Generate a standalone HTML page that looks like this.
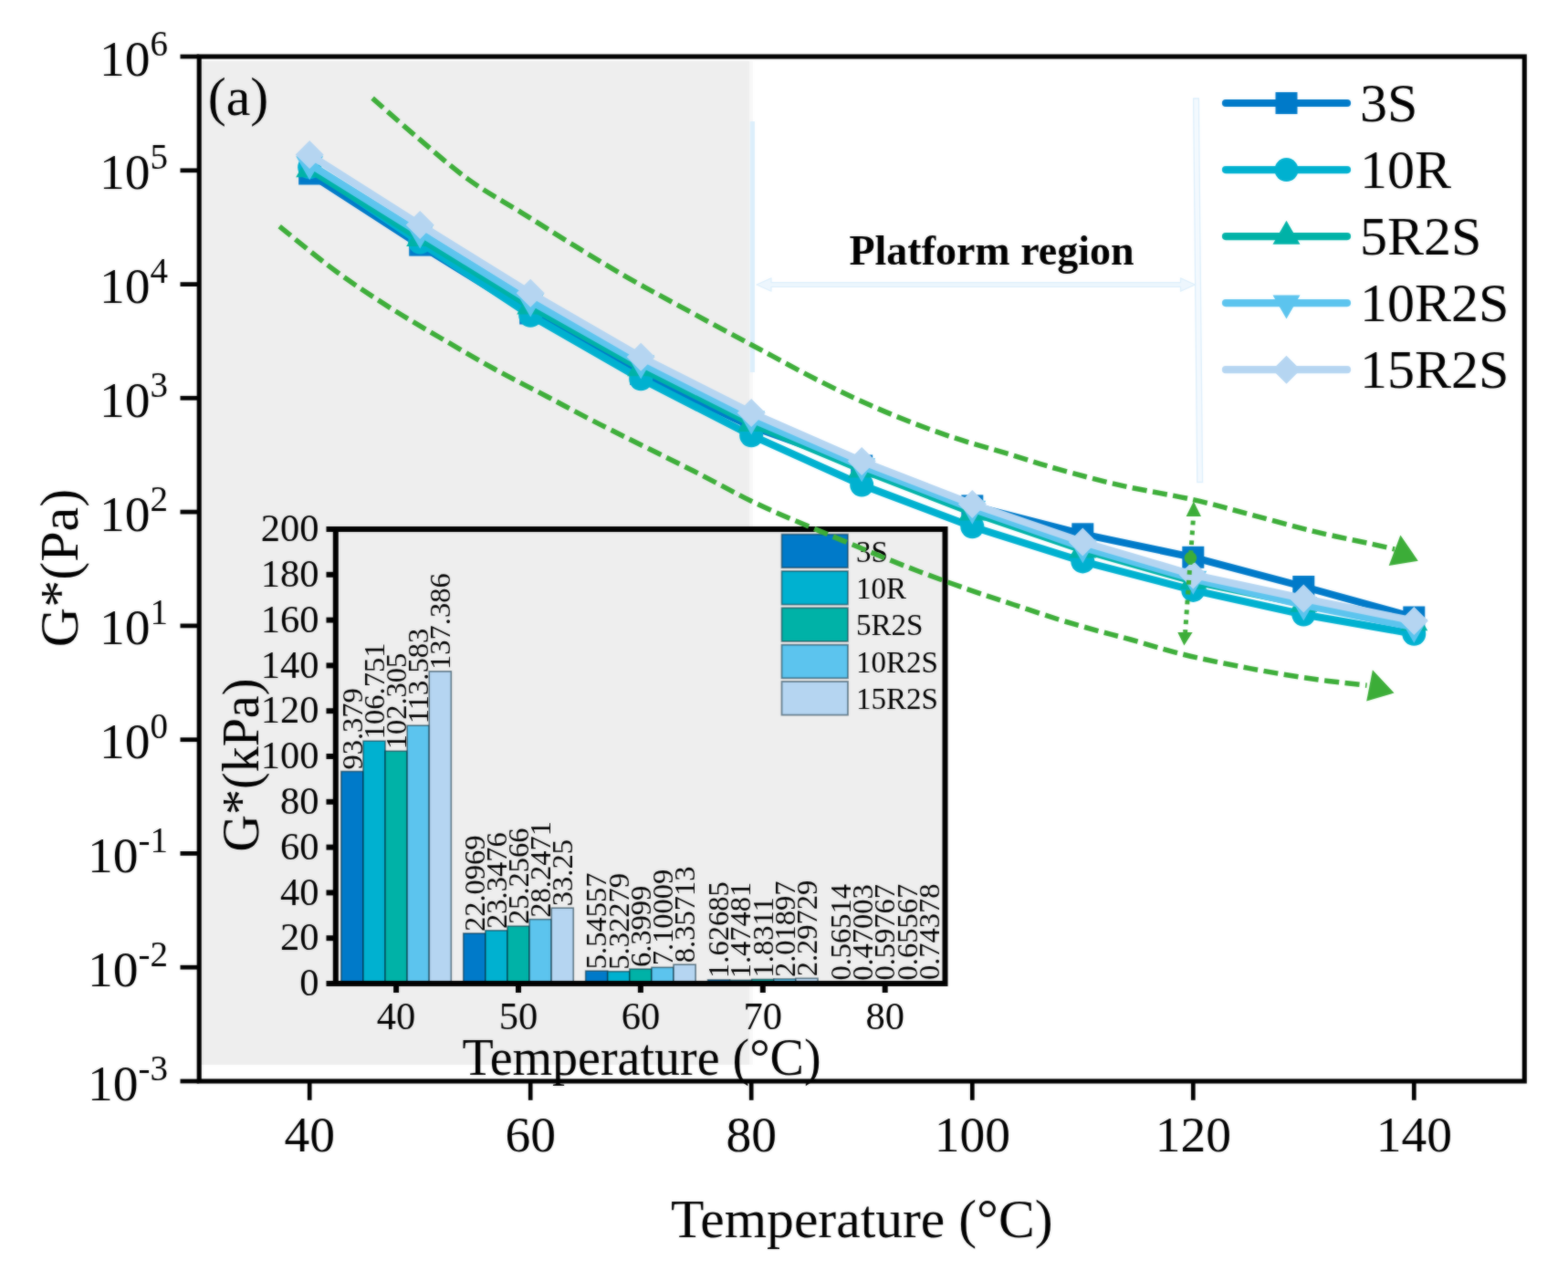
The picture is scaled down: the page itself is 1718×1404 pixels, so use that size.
<!DOCTYPE html>
<html lang="en">
<head>
<meta charset="utf-8">
<title>G* vs Temperature</title>
<style>
html,body{margin:0;padding:0;background:#fff;}
body{width:1718px;height:1404px;overflow:hidden;}
svg{display:block;}
</style>
</head>
<body>
<svg role="img" aria-label="G* versus temperature" width="1718" height="1404" viewBox="0 0 1718 1404" font-family='"Liberation Serif", "DejaVu Serif", serif'>
<defs><filter id="soft" filterUnits="userSpaceOnUse" x="0" y="0" width="1718" height="1404" color-interpolation-filters="sRGB"><feGaussianBlur in="SourceGraphic" stdDeviation="1" result="b"/><feComposite in="SourceGraphic" in2="b" operator="arithmetic" k1="0" k2="0.5" k3="0.5" k4="0"/></filter></defs>
<g filter="url(#soft)">
<rect width="1718" height="1404" fill="#fff"/>
<rect x="220.5" y="67" width="600.5" height="1100.0" fill="#EEEEEE"/>
<rect x="821" y="67" width="4" height="1100.0" fill="#F7F7F7"/>
<line x1="824.4" y1="133" x2="824.4" y2="408" stroke="#DCEEFB" stroke-width="5.2"/>
<polygon points="1307.6,108 1313.4,108 1317.6,528.5 1311.8,528.5" fill="#F3F9FE" stroke="#DCEEFB" stroke-width="1.3"/>
<polygon points="829,312 845,304.8 845,309.6 1293.5,309.6 1293.5,304.8 1309.5,312 1293.5,319.2 1293.5,314.4 845,314.4 845,319.2" fill="#EDF6FD" stroke="#DCEEFB" stroke-width="1.3" stroke-linejoin="round"/>
<text x="1086.5" y="290" font-size="46" font-weight="bold" text-anchor="middle">Platform region</text>
<rect x="367.8" y="580.0" width="667.7" height="498.0" fill="#EEEEEE"/>
<rect x="373.85" y="845.49" width="24.10" height="232.51" fill="#007AC9" stroke="#002030" stroke-opacity="0.55" stroke-width="1.6"/>
<rect x="397.95" y="812.19" width="24.10" height="265.81" fill="#00B1D0" stroke="#002030" stroke-opacity="0.55" stroke-width="1.6"/>
<rect x="422.05" y="823.26" width="24.10" height="254.74" fill="#00B2A7" stroke="#002030" stroke-opacity="0.55" stroke-width="1.6"/>
<rect x="446.15" y="795.18" width="24.10" height="282.82" fill="#5CC4EE" stroke="#002030" stroke-opacity="0.55" stroke-width="1.6"/>
<rect x="470.25" y="735.91" width="24.10" height="342.09" fill="#B5D5F1" stroke="#002030" stroke-opacity="0.55" stroke-width="1.6"/>
<rect x="507.75" y="1022.98" width="24.10" height="55.02" fill="#007AC9" stroke="#002030" stroke-opacity="0.55" stroke-width="1.6"/>
<rect x="531.85" y="1019.86" width="24.10" height="58.14" fill="#00B1D0" stroke="#002030" stroke-opacity="0.55" stroke-width="1.6"/>
<rect x="555.95" y="1015.11" width="24.10" height="62.89" fill="#00B2A7" stroke="#002030" stroke-opacity="0.55" stroke-width="1.6"/>
<rect x="580.05" y="1007.66" width="24.10" height="70.34" fill="#5CC4EE" stroke="#002030" stroke-opacity="0.55" stroke-width="1.6"/>
<rect x="604.15" y="995.21" width="24.10" height="82.79" fill="#B5D5F1" stroke="#002030" stroke-opacity="0.55" stroke-width="1.6"/>
<rect x="641.65" y="1064.19" width="24.10" height="13.81" fill="#007AC9" stroke="#002030" stroke-opacity="0.55" stroke-width="1.6"/>
<rect x="665.75" y="1064.75" width="24.10" height="13.25" fill="#00B1D0" stroke="#002030" stroke-opacity="0.55" stroke-width="1.6"/>
<rect x="689.85" y="1062.06" width="24.10" height="15.94" fill="#00B2A7" stroke="#002030" stroke-opacity="0.55" stroke-width="1.6"/>
<rect x="713.95" y="1060.32" width="24.10" height="17.68" fill="#5CC4EE" stroke="#002030" stroke-opacity="0.55" stroke-width="1.6"/>
<rect x="738.05" y="1057.19" width="24.10" height="20.81" fill="#B5D5F1" stroke="#002030" stroke-opacity="0.55" stroke-width="1.6"/>
<rect x="775.55" y="1073.95" width="24.10" height="4.05" fill="#007AC9" stroke="#002030" stroke-opacity="0.55" stroke-width="1.6"/>
<rect x="799.65" y="1074.33" width="24.10" height="3.67" fill="#00B1D0" stroke="#002030" stroke-opacity="0.55" stroke-width="1.6"/>
<rect x="823.75" y="1073.44" width="24.10" height="4.56" fill="#00B2A7" stroke="#002030" stroke-opacity="0.55" stroke-width="1.6"/>
<rect x="847.85" y="1072.97" width="24.10" height="5.03" fill="#5CC4EE" stroke="#002030" stroke-opacity="0.55" stroke-width="1.6"/>
<rect x="871.95" y="1072.28" width="24.10" height="5.72" fill="#B5D5F1" stroke="#002030" stroke-opacity="0.55" stroke-width="1.6"/>
<rect x="909.45" y="1076.59" width="24.10" height="1.41" fill="#007AC9" stroke="#002030" stroke-opacity="0.55" stroke-width="1.6"/>
<rect x="933.55" y="1076.83" width="24.10" height="1.17" fill="#00B1D0" stroke="#002030" stroke-opacity="0.55" stroke-width="1.6"/>
<rect x="957.65" y="1076.51" width="24.10" height="1.49" fill="#00B2A7" stroke="#002030" stroke-opacity="0.55" stroke-width="1.6"/>
<rect x="981.75" y="1076.37" width="24.10" height="1.63" fill="#5CC4EE" stroke="#002030" stroke-opacity="0.55" stroke-width="1.6"/>
<rect x="1005.85" y="1076.15" width="24.10" height="1.85" fill="#B5D5F1" stroke="#002030" stroke-opacity="0.55" stroke-width="1.6"/>
<text transform="translate(396.6,843.5) rotate(-90)" font-size="32.5" >93.379</text>
<text transform="translate(420.7,810.2) rotate(-90)" font-size="32.5" >106.751</text>
<text transform="translate(444.8,821.3) rotate(-90)" font-size="32.5" >102.305</text>
<text transform="translate(468.9,793.2) rotate(-90)" font-size="32.5" >113.583</text>
<text transform="translate(493.0,733.9) rotate(-90)" font-size="32.5" >137.386</text>
<text transform="translate(530.5,1021.0) rotate(-90)" font-size="32.5" >22.0969</text>
<text transform="translate(554.6,1017.9) rotate(-90)" font-size="32.5" >23.3476</text>
<text transform="translate(578.7,1013.1) rotate(-90)" font-size="32.5" >25.2566</text>
<text transform="translate(602.8,1005.7) rotate(-90)" font-size="32.5" >28.2471</text>
<text transform="translate(626.9,993.2) rotate(-90)" font-size="32.5" >33.25</text>
<text transform="translate(664.4,1062.2) rotate(-90)" font-size="32.5" >5.54557</text>
<text transform="translate(688.5,1062.7) rotate(-90)" font-size="32.5" >5.32279</text>
<text transform="translate(712.6,1060.1) rotate(-90)" font-size="32.5" >6.3999</text>
<text transform="translate(736.7,1058.3) rotate(-90)" font-size="32.5" >7.10009</text>
<text transform="translate(760.8,1055.2) rotate(-90)" font-size="32.5" >8.35713</text>
<text transform="translate(798.3,1071.9) rotate(-90)" font-size="32.5" >1.62685</text>
<text transform="translate(822.4,1072.3) rotate(-90)" font-size="32.5" >1.47481</text>
<text transform="translate(846.5,1071.4) rotate(-90)" font-size="32.5" >1.8311</text>
<text transform="translate(870.6,1071.0) rotate(-90)" font-size="32.5" >2.01897</text>
<text transform="translate(894.7,1070.3) rotate(-90)" font-size="32.5" >2.29729</text>
<text transform="translate(932.2,1074.6) rotate(-90)" font-size="32.5" >0.56514</text>
<text transform="translate(956.3,1074.8) rotate(-90)" font-size="32.5" >0.47003</text>
<text transform="translate(980.4,1074.5) rotate(-90)" font-size="32.5" >0.59767</text>
<text transform="translate(1004.5,1074.4) rotate(-90)" font-size="32.5" >0.65567</text>
<text transform="translate(1028.6,1074.1) rotate(-90)" font-size="32.5" >0.74378</text>
<rect x="367.8" y="580.0" width="667.7" height="498.0" fill="none" stroke="#000" stroke-width="6"/>
<line x1="357.5" y1="1078.0" x2="367.8" y2="1078.0" stroke="#000" stroke-width="6"/>
<text x="349.5" y="1091.2" font-size="42.5" text-anchor="end">0</text>
<line x1="357.5" y1="1028.2" x2="367.8" y2="1028.2" stroke="#000" stroke-width="6"/>
<text x="349.5" y="1041.4" font-size="42.5" text-anchor="end">20</text>
<line x1="357.5" y1="978.4" x2="367.8" y2="978.4" stroke="#000" stroke-width="6"/>
<text x="349.5" y="991.6" font-size="42.5" text-anchor="end">40</text>
<line x1="357.5" y1="928.6" x2="367.8" y2="928.6" stroke="#000" stroke-width="6"/>
<text x="349.5" y="941.8" font-size="42.5" text-anchor="end">60</text>
<line x1="357.5" y1="878.8" x2="367.8" y2="878.8" stroke="#000" stroke-width="6"/>
<text x="349.5" y="892.0" font-size="42.5" text-anchor="end">80</text>
<line x1="357.5" y1="829.0" x2="367.8" y2="829.0" stroke="#000" stroke-width="6"/>
<text x="349.5" y="842.2" font-size="42.5" text-anchor="end">100</text>
<line x1="357.5" y1="779.2" x2="367.8" y2="779.2" stroke="#000" stroke-width="6"/>
<text x="349.5" y="792.4" font-size="42.5" text-anchor="end">120</text>
<line x1="357.5" y1="729.4" x2="367.8" y2="729.4" stroke="#000" stroke-width="6"/>
<text x="349.5" y="742.6" font-size="42.5" text-anchor="end">140</text>
<line x1="357.5" y1="679.6" x2="367.8" y2="679.6" stroke="#000" stroke-width="6"/>
<text x="349.5" y="692.8" font-size="42.5" text-anchor="end">160</text>
<line x1="357.5" y1="629.8" x2="367.8" y2="629.8" stroke="#000" stroke-width="6"/>
<text x="349.5" y="643.0" font-size="42.5" text-anchor="end">180</text>
<line x1="357.5" y1="580.0" x2="367.8" y2="580.0" stroke="#000" stroke-width="6"/>
<text x="349.5" y="593.2" font-size="42.5" text-anchor="end">200</text>
<line x1="434.1" y1="1078.0" x2="434.1" y2="1088" stroke="#000" stroke-width="6"/>
<text x="434.1" y="1128.3" font-size="42.5" text-anchor="middle">40</text>
<line x1="568.0" y1="1078.0" x2="568.0" y2="1088" stroke="#000" stroke-width="6"/>
<text x="568.0" y="1128.3" font-size="42.5" text-anchor="middle">50</text>
<line x1="701.9" y1="1078.0" x2="701.9" y2="1088" stroke="#000" stroke-width="6"/>
<text x="701.9" y="1128.3" font-size="42.5" text-anchor="middle">60</text>
<line x1="835.8" y1="1078.0" x2="835.8" y2="1088" stroke="#000" stroke-width="6"/>
<text x="835.8" y="1128.3" font-size="42.5" text-anchor="middle">70</text>
<line x1="969.7" y1="1078.0" x2="969.7" y2="1088" stroke="#000" stroke-width="6"/>
<text x="969.7" y="1128.3" font-size="42.5" text-anchor="middle">80</text>
<text x="703" y="1177.5" font-size="56" text-anchor="middle">Temperature (°C)</text>
<text transform="translate(282.5,838.5) rotate(-90)" font-size="56" text-anchor="middle">G*(kPa)</text>
<rect x="856.5" y="585.6" width="72.5" height="36.6" fill="#007AC9" stroke="#002030" stroke-opacity="0.5" stroke-width="1.8"/>
<text x="938" y="615.6" font-size="33">3S</text>
<rect x="856.5" y="626.0" width="72.5" height="36.6" fill="#00B1D0" stroke="#002030" stroke-opacity="0.5" stroke-width="1.8"/>
<text x="938" y="656.0" font-size="33">10R</text>
<rect x="856.5" y="666.3" width="72.5" height="36.6" fill="#00B2A7" stroke="#002030" stroke-opacity="0.5" stroke-width="1.8"/>
<text x="938" y="696.3" font-size="33">5R2S</text>
<rect x="856.5" y="706.7" width="72.5" height="36.6" fill="#5CC4EE" stroke="#002030" stroke-opacity="0.5" stroke-width="1.8"/>
<text x="938" y="736.7" font-size="33">10R2S</text>
<rect x="856.5" y="747.0" width="72.5" height="36.6" fill="#B5D5F1" stroke="#002030" stroke-opacity="0.5" stroke-width="1.8"/>
<text x="938" y="777.0" font-size="33">15R2S</text>
<path d="M339.2,190.5 L460.2,268.6 L581.2,343.5 L702.2,410.0 L823.2,467.3 L944.2,510.5 L1065.3,554.4 L1186.3,585.3 L1307.3,610.8 L1428.3,643.0 L1549.3,676.5" fill="none" stroke="#007AC9" stroke-width="8.0" stroke-linejoin="round" stroke-linecap="butt"/>
<rect x="327.2" y="178.5" width="24.0" height="24.0" fill="#007AC9"/>
<rect x="448.2" y="256.6" width="24.0" height="24.0" fill="#007AC9"/>
<rect x="569.2" y="331.5" width="24.0" height="24.0" fill="#007AC9"/>
<rect x="690.2" y="398.0" width="24.0" height="24.0" fill="#007AC9"/>
<rect x="811.2" y="455.3" width="24.0" height="24.0" fill="#007AC9"/>
<rect x="932.2" y="498.5" width="24.0" height="24.0" fill="#007AC9"/>
<rect x="1053.3" y="542.4" width="24.0" height="24.0" fill="#007AC9"/>
<rect x="1174.3" y="573.3" width="24.0" height="24.0" fill="#007AC9"/>
<rect x="1295.3" y="598.8" width="24.0" height="24.0" fill="#007AC9"/>
<rect x="1416.3" y="631.0" width="24.0" height="24.0" fill="#007AC9"/>
<rect x="1537.3" y="664.5" width="24.0" height="24.0" fill="#007AC9"/>
<path d="M339.2,183.2 L460.2,265.6 L581.2,345.7 L702.2,415.3 L823.2,477.2 L944.2,531.5 L1065.3,577.2 L1186.3,615.4 L1307.3,646.9 L1428.3,673.5 L1549.3,694.7" fill="none" stroke="#00B1D0" stroke-width="8.0" stroke-linejoin="round" stroke-linecap="butt"/>
<circle cx="339.2" cy="183.2" r="13" fill="#00B1D0"/>
<circle cx="460.2" cy="265.6" r="13" fill="#00B1D0"/>
<circle cx="581.2" cy="345.7" r="13" fill="#00B1D0"/>
<circle cx="702.2" cy="415.3" r="13" fill="#00B1D0"/>
<circle cx="823.2" cy="477.2" r="13" fill="#00B1D0"/>
<circle cx="944.2" cy="531.5" r="13" fill="#00B1D0"/>
<circle cx="1065.3" cy="577.2" r="13" fill="#00B1D0"/>
<circle cx="1186.3" cy="615.4" r="13" fill="#00B1D0"/>
<circle cx="1307.3" cy="646.9" r="13" fill="#00B1D0"/>
<circle cx="1428.3" cy="673.5" r="13" fill="#00B1D0"/>
<circle cx="1549.3" cy="694.7" r="13" fill="#00B1D0"/>
<path d="M339.2,185.5 L460.2,261.3 L581.2,335.7 L702.2,403.6 L823.2,464.2 L944.2,514.7 L1065.3,561.8 L1186.3,602.7 L1307.3,637.0 L1428.3,662.0 L1549.3,682.5" fill="none" stroke="#00B2A7" stroke-width="8.0" stroke-linejoin="round" stroke-linecap="butt"/>
<polygon points="339.2,168.2 354.2,194.2 324.2,194.2" fill="#00B2A7"/>
<polygon points="460.2,244.0 475.2,270.0 445.2,270.0" fill="#00B2A7"/>
<polygon points="581.2,318.4 596.2,344.4 566.2,344.4" fill="#00B2A7"/>
<polygon points="702.2,386.3 717.2,412.3 687.2,412.3" fill="#00B2A7"/>
<polygon points="823.2,446.9 838.2,472.9 808.2,472.9" fill="#00B2A7"/>
<polygon points="944.2,497.4 959.2,523.4 929.2,523.4" fill="#00B2A7"/>
<polygon points="1065.3,544.5 1080.3,570.5 1050.3,570.5" fill="#00B2A7"/>
<polygon points="1186.3,585.4 1201.3,611.4 1171.3,611.4" fill="#00B2A7"/>
<polygon points="1307.3,619.7 1322.3,645.7 1292.3,645.7" fill="#00B2A7"/>
<polygon points="1428.3,644.7 1443.3,670.7 1413.3,670.7" fill="#00B2A7"/>
<polygon points="1549.3,665.2 1564.3,691.2 1534.3,691.2" fill="#00B2A7"/>
<path d="M339.2,179.9 L460.2,255.3 L581.2,330.1 L702.2,398.3 L823.2,459.2 L944.2,511.0 L1065.3,557.5 L1186.3,600.0 L1307.3,634.5 L1428.3,663.0 L1549.3,687.4" fill="none" stroke="#5CC4EE" stroke-width="8.0" stroke-linejoin="round" stroke-linecap="butt"/>
<polygon points="339.2,197.2 354.2,171.2 324.2,171.2" fill="#5CC4EE"/>
<polygon points="460.2,272.6 475.2,246.6 445.2,246.6" fill="#5CC4EE"/>
<polygon points="581.2,347.4 596.2,321.4 566.2,321.4" fill="#5CC4EE"/>
<polygon points="702.2,415.6 717.2,389.6 687.2,389.6" fill="#5CC4EE"/>
<polygon points="823.2,476.5 838.2,450.5 808.2,450.5" fill="#5CC4EE"/>
<polygon points="944.2,528.3 959.2,502.3 929.2,502.3" fill="#5CC4EE"/>
<polygon points="1065.3,574.8 1080.3,548.8 1050.3,548.8" fill="#5CC4EE"/>
<polygon points="1186.3,617.3 1201.3,591.3 1171.3,591.3" fill="#5CC4EE"/>
<polygon points="1307.3,651.8 1322.3,625.8 1292.3,625.8" fill="#5CC4EE"/>
<polygon points="1428.3,680.3 1443.3,654.3 1413.3,654.3" fill="#5CC4EE"/>
<polygon points="1549.3,704.7 1564.3,678.7 1534.3,678.7" fill="#5CC4EE"/>
<path d="M339.2,169.6 L460.2,246.4 L581.2,321.3 L702.2,391.3 L823.2,452.4 L944.2,505.5 L1065.3,552.5 L1186.3,594.0 L1307.3,630.0 L1428.3,656.0 L1549.3,680.5" fill="none" stroke="#B5D5F1" stroke-width="8.0" stroke-linejoin="round" stroke-linecap="butt"/>
<polygon points="339.2,154.1 354.7,169.6 339.2,185.1 323.7,169.6" fill="#B5D5F1"/>
<polygon points="460.2,230.9 475.7,246.4 460.2,261.9 444.7,246.4" fill="#B5D5F1"/>
<polygon points="581.2,305.8 596.7,321.3 581.2,336.8 565.7,321.3" fill="#B5D5F1"/>
<polygon points="702.2,375.8 717.7,391.3 702.2,406.8 686.7,391.3" fill="#B5D5F1"/>
<polygon points="823.2,436.9 838.7,452.4 823.2,467.9 807.7,452.4" fill="#B5D5F1"/>
<polygon points="944.2,490.0 959.8,505.5 944.2,521.0 928.8,505.5" fill="#B5D5F1"/>
<polygon points="1065.3,537.0 1080.8,552.5 1065.3,568.0 1049.8,552.5" fill="#B5D5F1"/>
<polygon points="1186.3,578.5 1201.8,594.0 1186.3,609.5 1170.8,594.0" fill="#B5D5F1"/>
<polygon points="1307.3,614.5 1322.8,630.0 1307.3,645.5 1291.8,630.0" fill="#B5D5F1"/>
<polygon points="1428.3,640.5 1443.8,656.0 1428.3,671.5 1412.8,656.0" fill="#B5D5F1"/>
<polygon points="1549.3,665.0 1564.8,680.5 1549.3,696.0 1533.8,680.5" fill="#B5D5F1"/>
<path d="M408.1,107.6 C415.9,114.4 437.2,133.6 454.6,148.4 C472.1,163.2 493.4,182.3 512.8,196.4 C532.2,210.5 551.6,220.7 571.0,232.8 C590.4,244.9 609.8,257.3 629.2,269.2 C648.6,281.1 668.0,293.0 687.4,304.1 C706.8,315.2 723.1,323.8 745.7,336.1 C768.3,348.4 797.2,364.0 822.9,377.7 C848.6,391.4 875.3,406.3 899.7,418.5 C924.1,430.7 946.2,441.2 969.5,451.1 C992.8,461.0 1016.1,469.9 1039.4,477.8 C1062.7,485.8 1089.1,492.7 1109.2,498.8 C1129.3,504.9 1139.9,508.8 1160.0,514.4 C1180.1,520.0 1205.3,526.9 1229.8,532.4 C1254.2,537.9 1283.4,542.3 1306.7,547.5 C1330.0,552.7 1347.4,558.0 1369.5,563.8 C1391.6,569.6 1416.1,576.8 1439.4,582.4 C1462.7,588.0 1494.4,594.3 1509.2,597.6 C1524.0,600.9 1524.9,601.3 1528.0,602.0" fill="none" stroke="#3CAD38" stroke-width="5.5" stroke-dasharray="16 6.5"/>
<path d="M306.2,248.2 C316.4,256.3 347.4,282.1 367.3,296.8 C387.2,311.5 406.1,323.7 425.5,336.1 C444.9,348.5 464.3,359.6 483.7,371.0 C503.1,382.4 522.5,393.8 541.9,404.5 C561.3,415.2 580.7,424.8 600.1,435.0 C619.5,445.2 631.6,452.1 658.3,465.6 C684.9,479.2 731.4,501.8 760.0,516.3 C788.6,530.8 806.5,541.3 829.8,552.4 C853.1,563.5 876.4,572.8 899.7,582.6 C923.0,592.5 951.5,604.1 969.5,611.5 C987.5,618.9 993.0,621.0 1008.0,626.7 C1023.0,632.4 1042.3,639.5 1059.3,645.5 C1076.3,651.5 1093.2,656.9 1110.0,662.5 C1126.8,668.1 1144.6,674.2 1160.0,679.0 C1175.4,683.8 1189.4,687.6 1202.6,691.3 C1215.8,695.0 1223.2,696.6 1239.0,701.0 C1254.8,705.4 1275.7,712.2 1297.4,717.5 C1319.2,722.8 1345.8,728.1 1369.5,732.6 C1393.2,737.1 1418.1,741.2 1439.4,744.3 C1460.8,747.4 1487.9,750.1 1497.6,751.2" fill="none" stroke="#3CAD38" stroke-width="5.5" stroke-dasharray="16 6.5"/>
<polygon points="1534.4,586.5 1553.8,614.8 1521.7,620" fill="#3CAD38"/>
<polygon points="1503.9,734.3 1527.5,759.4 1497.2,768.6" fill="#3CAD38"/>
<line x1="1307.6" y1="566" x2="1298.6" y2="693" stroke="#3CAD38" stroke-width="5" stroke-dasharray="4.8 6.1" stroke-dashoffset="6.3"/>
<polygon points="1307.8,549.5 1316,566 1299.6,566" fill="#3CAD38"/>
<polygon points="1297.4,707.5 1306.6,693 1290.3,693" fill="#3CAD38"/>
<circle cx="1304.4" cy="611.5" r="6.8" fill="#3CAD38"/>
<rect x="218.2" y="62.0" width="1452.1" height="1123.0" fill="none" stroke="#000" stroke-width="5.1"/>
<line x1="197.5" y1="62.0" x2="218.2" y2="62.0" stroke="#000" stroke-width="4.8"/>
<text x="184" y="82.5" font-size="55.5" text-anchor="end">10<tspan dy="-22" font-size="39">6</tspan></text>
<line x1="197.5" y1="186.8" x2="218.2" y2="186.8" stroke="#000" stroke-width="4.8"/>
<text x="184" y="207.3" font-size="55.5" text-anchor="end">10<tspan dy="-22" font-size="39">5</tspan></text>
<line x1="197.5" y1="311.6" x2="218.2" y2="311.6" stroke="#000" stroke-width="4.8"/>
<text x="184" y="332.1" font-size="55.5" text-anchor="end">10<tspan dy="-22" font-size="39">4</tspan></text>
<line x1="197.5" y1="436.3" x2="218.2" y2="436.3" stroke="#000" stroke-width="4.8"/>
<text x="184" y="456.8" font-size="55.5" text-anchor="end">10<tspan dy="-22" font-size="39">3</tspan></text>
<line x1="197.5" y1="561.1" x2="218.2" y2="561.1" stroke="#000" stroke-width="4.8"/>
<text x="184" y="581.6" font-size="55.5" text-anchor="end">10<tspan dy="-22" font-size="39">2</tspan></text>
<line x1="197.5" y1="685.9" x2="218.2" y2="685.9" stroke="#000" stroke-width="4.8"/>
<text x="184" y="706.4" font-size="55.5" text-anchor="end">10<tspan dy="-22" font-size="39">1</tspan></text>
<line x1="197.5" y1="810.7" x2="218.2" y2="810.7" stroke="#000" stroke-width="4.8"/>
<text x="184" y="831.2" font-size="55.5" text-anchor="end">10<tspan dy="-22" font-size="39">0</tspan></text>
<line x1="197.5" y1="935.4" x2="218.2" y2="935.4" stroke="#000" stroke-width="4.8"/>
<text x="184" y="955.9" font-size="55.5" text-anchor="end">10<tspan dy="-22" font-size="39">-1</tspan></text>
<line x1="197.5" y1="1060.2" x2="218.2" y2="1060.2" stroke="#000" stroke-width="4.8"/>
<text x="184" y="1080.7" font-size="55.5" text-anchor="end">10<tspan dy="-22" font-size="39">-2</tspan></text>
<line x1="197.5" y1="1185.0" x2="218.2" y2="1185.0" stroke="#000" stroke-width="4.8"/>
<text x="184" y="1205.5" font-size="55.5" text-anchor="end">10<tspan dy="-22" font-size="39">-3</tspan></text>
<line x1="339.2" y1="1185.0" x2="339.2" y2="1205.8" stroke="#000" stroke-width="4.7"/>
<text x="339.2" y="1262" font-size="55.5" text-anchor="middle">40</text>
<line x1="581.2" y1="1185.0" x2="581.2" y2="1205.8" stroke="#000" stroke-width="4.7"/>
<text x="581.2" y="1262" font-size="55.5" text-anchor="middle">60</text>
<line x1="823.2" y1="1185.0" x2="823.2" y2="1205.8" stroke="#000" stroke-width="4.7"/>
<text x="823.2" y="1262" font-size="55.5" text-anchor="middle">80</text>
<line x1="1065.3" y1="1185.0" x2="1065.3" y2="1205.8" stroke="#000" stroke-width="4.7"/>
<text x="1065.3" y="1262" font-size="55.5" text-anchor="middle">100</text>
<line x1="1307.3" y1="1185.0" x2="1307.3" y2="1205.8" stroke="#000" stroke-width="4.7"/>
<text x="1307.3" y="1262" font-size="55.5" text-anchor="middle">120</text>
<line x1="1549.3" y1="1185.0" x2="1549.3" y2="1205.8" stroke="#000" stroke-width="4.7"/>
<text x="1549.3" y="1262" font-size="55.5" text-anchor="middle">140</text>
<text x="944.3" y="1355.5" font-size="59.6" text-anchor="middle">Temperature (°C)</text>
<text transform="translate(84.5,622.5) rotate(-90)" font-size="60" text-anchor="middle">G*(Pa)</text>
<text x="227.7" y="126" font-size="60">(a)</text>
<line x1="1343" y1="113.0" x2="1476" y2="113.0" stroke="#007AC9" stroke-width="8.2" stroke-linecap="round"/>
<rect x="1397.5" y="101.0" width="24.0" height="24.0" fill="#007AC9"/>
<text x="1490" y="133.0" font-size="60">3S</text>
<line x1="1343" y1="186.1" x2="1476" y2="186.1" stroke="#00B1D0" stroke-width="8.2" stroke-linecap="round"/>
<circle cx="1409.5" cy="186.1" r="13" fill="#00B1D0"/>
<text x="1490" y="206.1" font-size="60">10R</text>
<line x1="1343" y1="259.1" x2="1476" y2="259.1" stroke="#00B2A7" stroke-width="8.2" stroke-linecap="round"/>
<polygon points="1409.5,241.8 1424.5,267.8 1394.5,267.8" fill="#00B2A7"/>
<text x="1490" y="279.1" font-size="60">5R2S</text>
<line x1="1343" y1="332.1" x2="1476" y2="332.1" stroke="#5CC4EE" stroke-width="8.2" stroke-linecap="round"/>
<polygon points="1409.5,349.4 1424.5,323.4 1394.5,323.4" fill="#5CC4EE"/>
<text x="1490" y="352.1" font-size="60">10R2S</text>
<line x1="1343" y1="405.2" x2="1476" y2="405.2" stroke="#B5D5F1" stroke-width="8.2" stroke-linecap="round"/>
<polygon points="1409.5,389.7 1425.0,405.2 1409.5,420.7 1394.0,405.2" fill="#B5D5F1"/>
<text x="1490" y="425.2" font-size="60">15R2S</text>
</g>
</svg>
</body>
</html>
